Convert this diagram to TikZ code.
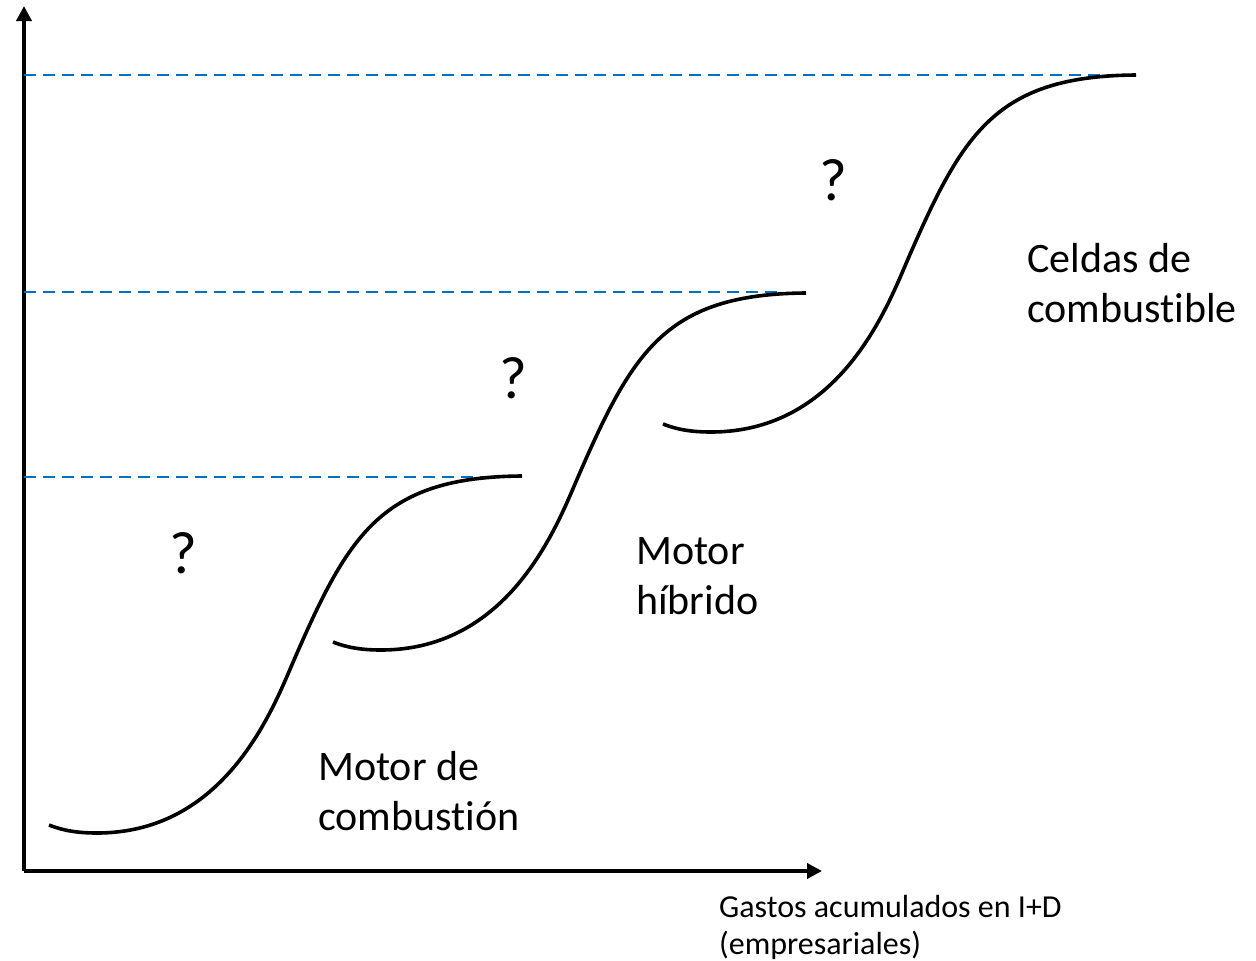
\documentclass[tikz,border=0pt]{standalone}
\usepackage{fontspec}
\setmainfont{Carlito}[Ligatures=NoCommon]
\usetikzlibrary{arrows.meta}
\definecolor{dashblue}{RGB}{0,112,192}
\begin{document}
\begin{tikzpicture}[x=1pt,y=-1pt,
  axis/.style={line width=3.8pt,-{Triangle[length=15pt,width=15pt]}},
  level/.style={dashblue,line width=2.8pt,dash pattern=on 12pt off 7pt},
  scurve/.style={line width=3.6pt,line cap=butt},
  biglabel/.style={anchor=base west,inner sep=0pt,align=left,font=\fontsize{42}{50}\selectfont},
  qmark/.style={anchor=base,inner sep=0pt,font=\fontsize{60}{72}\selectfont},
  smalllabel/.style={anchor=base west,inner sep=0pt,align=left,font=\fontsize{32}{36.5}\selectfont}]
\useasboundingbox (0,0) rectangle (1256,961);
\fill[white] (0,0) rectangle (1256,961);
% axes
\coordinate (O) at (24,871);
\coordinate (ytip) at (24,6);
\coordinate (xtip) at (822,871);
\draw[axis] (O) -- (ytip);
\draw[axis] (O) -- (xtip);
% level lines
\coordinate (l1a) at (24,477); \coordinate (l1b) at (512,477);
\coordinate (l2a) at (24,292); \coordinate (l2b) at (782,292);
\coordinate (l3a) at (24,75);  \coordinate (l3b) at (1135,75);
\draw[level] (l1a) -- (l1b);
\draw[level] (l2a) -- (l2b);
\draw[level] (l3a) -- (l3b);
% S-curves
\foreach \dx/\dy in {49/825, 333/642, 663/424}
  \draw[scurve, shift={(\dx,\dy)}]
    (0,0) .. controls (15,6) and (30,8) .. (48,8)
    .. controls (178,8) and (225,-119) .. (245,-165)
    .. controls (300,-291.5) and (333,-348) .. (473,-349);
% labels
\node[biglabel] (mc) at (318,830) {Motor de\\combustión};
\node[biglabel] (mh) at (636,614) {Motor\\híbrido};
\node[biglabel] (cc) at (1027,322) {Celdas de\\combustible};
\node[qmark] (q1) at (183,573) {?};
\node[qmark] (q2) at (513,398) {?};
\node[qmark] (q3) at (833,200) {?};
\node[smalllabel] (xl) at (719,954) {Gastos acumulados en I+D\\(empresariales)};
\end{tikzpicture}
\end{document}
